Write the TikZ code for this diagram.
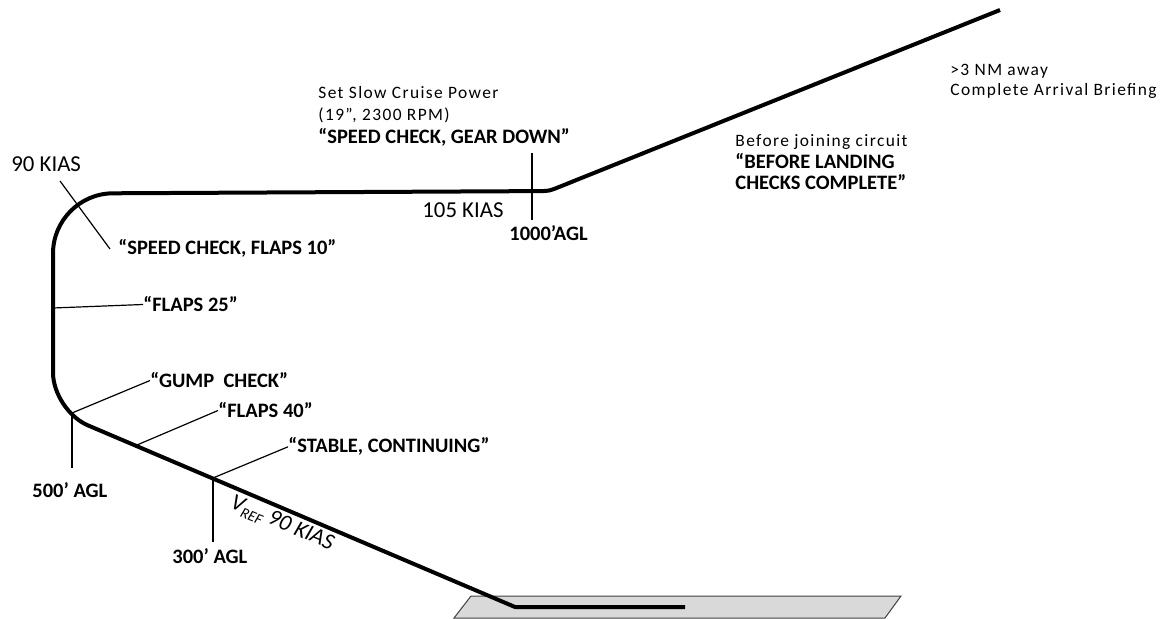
\documentclass[tikz,border=0pt]{standalone}
\usepackage{fontspec}
\setmainfont{Carlito}
\newfontfamily\lsfont[LetterSpace=8]{Carlito}
\begin{document}
\begin{tikzpicture}[x=0.5pt,y=-0.5pt,
  pathline/.style={line width=2pt,line join=round},
  leader/.style={line width=0.6pt},
  call/.style={font=\fontsize{10.25}{12}\selectfont\bfseries,inner sep=0pt,anchor=base west},
  small/.style={font=\lsfont\fontsize{8.7}{10}\selectfont,inner sep=0pt,anchor=base west},
  big/.style={font=\fontsize{11.4}{13}\selectfont,inner sep=0pt,anchor=base west}]
\useasboundingbox (0,0) rectangle (1166,619);
% runway
\draw[fill=black!15,draw=black!75,line width=0.5pt] (454,618) -- (471,596) -- (901,596) -- (885,618) -- cycle;
% flight path
\coordinate (top) at (1000,10);
\coordinate (j1) at (558.3,187.3);
\coordinate (j2) at (539,191.1);
\coordinate (tl1) at (113,193.3);
\coordinate (tl2) at (53,253.5);
\coordinate (bl1) at (53,372.5);
\coordinate (bl2) at (88,425.4);
\coordinate (td) at (515,607);
\coordinate (rwend) at (685,607);
\draw[pathline] (top) -- (j1) .. controls (549,191) .. (j2) -- (tl1)
  .. controls (80,193.4) and (53,220.5) .. (tl2) -- (bl1)
  .. controls (53,393.4) and (68.7,417.2) .. (bl2) -- (td) -- (rwend);
% points on path
\coordinate (p90) at (60,181);
\coordinate (p25) at (53,308);
\coordinate (p500) at (72,413);
\coordinate (p40) at (137,445);
\coordinate (p300) at (213,478);
\coordinate (p1000) at (532,153);
\coordinate (p1000b) at (532,220);
\coordinate (p500b) at (72,468);
\coordinate (p300b) at (213,542);
% labels
\node[big] (k90) at (11,172) {90 KIAS};
\node[call] (f10) at (118,255) {“SPEED CHECK, FLAPS 10”};
\node[call] (f25) at (143,312) {“FLAPS 25”};
\node[call] (gump) at (150,388) {“GUMP\ \ CHECK”};
\node[call] (f40) at (218,418) {“FLAPS 40”};
\node[call] (stable) at (288,453) {“STABLE, CONTINUING”};
\node[call] (a500) at (32,497) {500’ AGL};
\node[call] (a300) at (172,563) {300’ AGL};
\node[small] (scp) at (318,99) {Set Slow Cruise Power};
\node[small] (rpm) at (318,121) {(19”, 2300 RPM)};
\node[call] (gear) at (318,144) {“SPEED CHECK, GEAR DOWN”};
\node[big] (k105) at (422,217.5) {105 KIAS};
\node[call] (a1000) at (509,241) {1000’AGL};
\node[small] (bjc) at (735,147) {Before joining circuit};
\node[call] (blc1) at (735,169) {“BEFORE LANDING};
\node[call] (blc2) at (735,190) {CHECKS COMPLETE”};
\node[small] (nm3) at (950,76) {>3 NM away};
\node[small] (cab) at (950,96) {Complete Arrival Briefing};
\node[big,rotate=-23] (vref) at (229,507) {\itshape V\raisebox{-0.45ex}{\fontsize{7.5}{8}\selectfont REF}\ 90 KIAS};
% leaders
\draw[leader] (p90) -- (110,249);
\draw[leader] (p25) -- (f25.west);
\draw[leader] (p500) -- (gump.west);
\draw[leader] (p40) -- (f40.west);
\draw[leader] (p300) -- (stable.west);
\draw[leader] (p500) -- (p500b);
\draw[leader] (p300) -- (p300b);
\draw[leader] (p1000) -- (p1000b);
\end{tikzpicture}
\end{document}
